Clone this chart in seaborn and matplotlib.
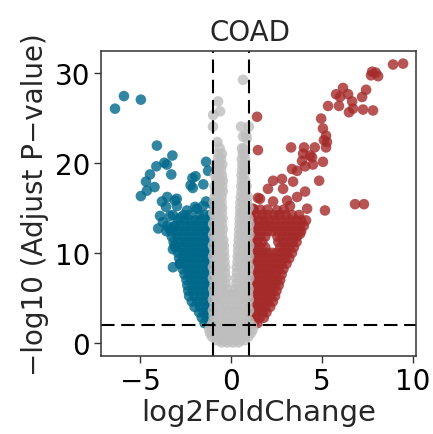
import numpy as np
import pandas as pd
import matplotlib
matplotlib.use("Agg")
import matplotlib.pyplot as plt
import seaborn as sns

# ---------------- data (log2FoldChange, -log10 adjusted p) ----------------
down_pts = [
    (-6.37, 26.0), (-5.88, 27.4), (-4.95, 27.0),
    (-4.07, 21.9), (-3.22, 20.8), (-3.66, 20.0), (-3.52, 19.8), (-4.10, 19.6),
    (-1.37, 20.1), (-1.26, 19.1), (-4.45, 18.7), (-3.28, 18.7), (-2.12, 18.3), (-1.95, 18.5),
    (-4.67, 17.9), (-2.22, 17.5), (-2.10, 17.2), (-1.52, 17.6), (-4.20, 17.3),
    (-4.62, 16.9), (-4.95, 16.3), (-3.50, 16.2), (-2.98, 16.0),
    (-3.79, 15.7), (-3.08, 15.8), (-1.37, 15.7), (-3.57, 15.1), (-2.97, 15.2),
    (-1.98, 15.1), (-1.54, 15.2), (-1.04, 15.4), (-2.42, 14.7), (-1.87, 14.9),
    (-3.90, 14.1), (-3.35, 14.1), (-3.19, 14.2), (-2.80, 13.9), (-3.74, 13.4),
    (-4.00, 12.7), (-3.35, 12.7), (-3.08, 12.9),
    (-3.08, 10.8), (-3.19, 10.4), (-3.19, 8.4), (-2.80, 8.8),
    (-1.45, 2.2), (-1.20, 2.2), (-1.04, 2.2),
    (-1.60, 2.8), (-1.35, 2.8), (-1.10, 2.8),
    (-1.75, 3.4), (-1.50, 3.4), (-1.25, 3.4), (-1.03, 3.4),
    (-2.00, 4.0), (-1.70, 4.0), (-1.40, 4.0), (-1.12, 4.0),
    (-2.15, 4.6), (-1.85, 4.6), (-1.55, 4.6), (-1.28, 4.6), (-1.03, 4.6),
    (-2.30, 5.2), (-2.00, 5.2), (-1.70, 5.2), (-1.40, 5.2), (-1.12, 5.2),
    (-2.35, 5.8), (-2.10, 5.8), (-1.82, 5.8), (-1.55, 5.8), (-1.28, 5.8), (-1.03, 5.8),
    (-2.40, 6.4), (-2.12, 6.4), (-1.85, 6.4), (-1.58, 6.4), (-1.30, 6.4), (-1.08, 6.4),
    (-2.45, 7.0), (-2.20, 7.0), (-1.95, 7.0), (-1.68, 7.0), (-1.42, 7.0), (-1.15, 7.0), (-1.03, 7.1),
    (-2.55, 7.6), (-2.28, 7.6), (-2.00, 7.6), (-1.72, 7.6), (-1.45, 7.6), (-1.20, 7.6), (-1.03, 7.6),
    (-2.65, 8.2), (-2.38, 8.2), (-2.10, 8.2), (-1.82, 8.2), (-1.55, 8.2), (-1.30, 8.2), (-1.06, 8.2),
    (-2.80, 8.8), (-2.50, 8.8), (-2.22, 8.8), (-1.95, 8.8), (-1.68, 8.8), (-1.40, 8.8), (-1.14, 8.8),
    (-2.85, 9.4), (-2.58, 9.4), (-2.30, 9.4), (-2.02, 9.4), (-1.75, 9.4), (-1.48, 9.4), (-1.22, 9.4), (-1.03, 9.4),
    (-2.90, 10.0), (-2.62, 10.0), (-2.35, 10.0), (-2.08, 10.0), (-1.80, 10.0), (-1.55, 10.0), (-1.30, 10.0), (-1.06, 10.0),
    (-3.05, 10.6), (-2.75, 10.6), (-2.48, 10.6), (-2.20, 10.6), (-1.92, 10.6), (-1.65, 10.6), (-1.38, 10.6), (-1.12, 10.6),
    (-3.15, 11.2), (-2.85, 11.2), (-2.55, 11.2), (-2.28, 11.2), (-2.00, 11.2), (-1.72, 11.2), (-1.45, 11.2), (-1.20, 11.2), (-1.03, 11.2),
    (-3.25, 11.8), (-2.95, 11.8), (-2.65, 11.8), (-2.38, 11.8), (-2.10, 11.8), (-1.82, 11.8), (-1.55, 11.8), (-1.28, 11.8), (-1.05, 11.8),
    (-3.55, 12.4), (-3.30, 12.4), (-3.00, 12.4), (-2.72, 12.4), (-2.45, 12.4), (-2.15, 12.4), (-1.88, 12.4), (-1.60, 12.4), (-1.33, 12.4), (-1.08, 12.4),
    (-3.50, 13.0), (-3.10, 13.0), (-2.80, 13.0), (-2.50, 13.0), (-2.20, 13.0), (-1.92, 13.0), (-1.62, 13.0), (-1.35, 13.0), (-1.10, 13.0),
    (-2.90, 13.6), (-2.55, 13.6), (-2.25, 13.6), (-1.95, 13.6), (-1.70, 13.6), (-1.40, 13.6), (-1.12, 13.6),
    (-2.60, 14.2), (-2.30, 14.2), (-1.75, 14.2), (-1.45, 14.2), (-1.15, 14.2),
]

up_pts = [
    (9.45, 31.0), (8.90, 30.9), (7.75, 30.1), (7.95, 30.0), (7.69, 29.7), (8.08, 29.6),
    (6.15, 28.3), (7.42, 28.1), (5.77, 27.6), (6.43, 27.6), (5.99, 27.3), (7.20, 27.3),
    (6.65, 26.8), (5.33, 26.3), (5.93, 26.3), (6.48, 25.6), (6.70, 26.0), (7.25, 25.9),
    (7.80, 25.8), (4.95, 24.9), (1.43, 25.1), (5.05, 23.8), (5.22, 23.0), (5.27, 22.3),
    (5.10, 22.5), (1.48, 21.4), (3.30, 21.7), (4.01, 21.7), (4.60, 21.7), (5.22, 21.7),
    (3.96, 21.0), (4.34, 20.8), (4.45, 20.6), (3.90, 20.2), (5.05, 20.1), (4.50, 19.8),
    (3.35, 19.3), (3.63, 19.1), (4.07, 19.6), (4.84, 18.0), (2.80, 18.2), (2.31, 18.0),
    (3.41, 17.9), (2.03, 17.1), (2.86, 17.1), (4.07, 16.8), (3.63, 16.2), (1.48, 16.1),
    (1.59, 16.0), (2.31, 15.7), (3.08, 15.8), (6.81, 15.4), (7.30, 15.4), (5.16, 14.7),
    (3.24, 15.2), (2.53, 14.7), (4.18, 14.9), (1.21, 14.9), (3.74, 14.2), (1.87, 13.2),
    (1.04, 2.2), (1.25, 2.2), (1.45, 2.2),
    (1.08, 2.8), (1.32, 2.8), (1.56, 2.8), (1.80, 2.8),
    (1.03, 3.4), (1.28, 3.4), (1.52, 3.4), (1.75, 3.4), (1.95, 3.4),
    (1.10, 4.0), (1.35, 4.0), (1.60, 4.0), (1.88, 4.0), (2.15, 4.0),
    (1.04, 4.6), (1.30, 4.6), (1.55, 4.6), (1.80, 4.6), (2.05, 4.6), (2.30, 4.6),
    (1.12, 5.2), (1.38, 5.2), (1.65, 5.2), (1.92, 5.2), (2.18, 5.2), (2.42, 5.2),
    (1.03, 5.8), (1.27, 5.8), (1.52, 5.8), (1.78, 5.8), (2.02, 5.8), (2.28, 5.8), (2.50, 5.8),
    (1.12, 6.4), (1.38, 6.4), (1.65, 6.4), (1.90, 6.4), (2.15, 6.4), (2.40, 6.4), (2.62, 6.4),
    (1.04, 7.0), (1.28, 7.0), (1.55, 7.0), (1.80, 7.0), (2.05, 7.0), (2.30, 7.0), (2.52, 7.0), (2.70, 7.0),
    (1.15, 7.6), (1.40, 7.6), (1.68, 7.6), (1.95, 7.6), (2.20, 7.6), (2.48, 7.6), (2.78, 7.6),
    (1.05, 8.2), (1.30, 8.2), (1.55, 8.2), (1.82, 8.2), (2.08, 8.2), (2.35, 8.2), (2.62, 8.2), (2.88, 8.2),
    (1.15, 8.8), (1.42, 8.8), (1.70, 8.8), (1.98, 8.8), (2.25, 8.8), (2.52, 8.8), (2.80, 8.8), (3.05, 8.8),
    (1.04, 9.4), (1.30, 9.4), (1.58, 9.4), (1.85, 9.4), (2.12, 9.4), (2.40, 9.4), (2.68, 9.4), (2.95, 9.4), (3.20, 9.4),
    (1.15, 10.0), (1.42, 10.0), (1.70, 10.0), (1.98, 10.0), (2.25, 10.0), (2.52, 10.0), (2.80, 10.0), (3.08, 10.0), (3.35, 10.0),
    (1.05, 10.6), (1.32, 10.6), (1.60, 10.6), (1.88, 10.6), (2.70, 10.6), (2.95, 10.6), (3.20, 10.6), (3.45, 10.6),
    (1.18, 11.2), (1.45, 11.2), (1.72, 11.2), (2.60, 11.2), (2.88, 11.2), (3.15, 11.2), (3.38, 11.2), (3.60, 11.2),
    (1.05, 11.8), (1.32, 11.8), (1.60, 11.8), (1.88, 11.8), (2.55, 11.8), (2.82, 11.8), (3.10, 11.8), (3.38, 11.8), (3.62, 11.8), (3.79, 12.1),
    (1.18, 12.4), (1.45, 12.4), (1.72, 12.4), (2.00, 12.4), (2.28, 12.4), (2.55, 12.4), (2.82, 12.4), (3.10, 12.4), (3.38, 12.4), (3.62, 12.4), (3.85, 12.4),
    (1.05, 13.0), (1.32, 13.0), (1.60, 13.0), (1.88, 13.0), (2.15, 13.0), (2.42, 13.0), (2.70, 13.0), (2.98, 13.0), (3.25, 13.0), (3.52, 13.0), (3.78, 13.0), (4.00, 13.0),
    (1.20, 13.6), (1.50, 13.6), (1.80, 13.6), (2.10, 13.6), (2.40, 13.6), (2.70, 13.6), (3.00, 13.6), (3.30, 13.6), (3.60, 13.6), (3.85, 13.6), (4.12, 13.6),
    (1.08, 14.2), (1.38, 14.2), (1.70, 14.2), (2.00, 14.2), (2.35, 14.2), (2.65, 14.2), (3.00, 14.2), (3.35, 14.2),
    (1.25, 14.8), (1.60, 14.8), (2.00, 14.8), (2.90, 14.8),
]

ns_pts = [
    (-0.50, 0.05), (-0.20, 0.05), (0.10, 0.05), (0.40, 0.05),
    (-0.80, 0.3), (-0.55, 0.3), (-0.30, 0.3), (0.00, 0.3), (0.25, 0.3), (0.50, 0.3), (0.75, 0.3),
    (-1.05, 0.7), (-0.80, 0.7), (-0.50, 0.7), (-0.20, 0.7), (0.10, 0.7), (0.35, 0.7), (0.65, 0.7), (0.95, 0.7),
    (-1.15, 1.1), (-0.90, 1.1), (-0.60, 1.1), (-0.35, 1.1), (-0.05, 1.1), (0.20, 1.1), (0.50, 1.1), (0.80, 1.1), (1.10, 1.1),
    (-1.20, 1.5), (-0.95, 1.5), (-0.70, 1.5), (-0.40, 1.5), (-0.15, 1.5), (0.15, 1.5), (0.40, 1.5), (0.70, 1.5), (0.95, 1.5), (1.20, 1.5),
    (-1.10, 1.9), (-0.85, 1.9), (-0.55, 1.9), (-0.25, 1.9), (0.05, 1.9), (0.30, 1.9), (0.60, 1.9), (0.85, 1.9), (1.15, 1.9),
    (-0.98, 2.4), (-0.70, 2.4), (-0.40, 2.4), (-0.10, 2.4), (0.20, 2.4), (0.50, 2.4), (0.80, 2.4), (0.99, 2.4),
    (-0.95, 3.0), (-0.65, 3.0), (-0.35, 3.0), (-0.05, 3.0), (0.25, 3.0), (0.55, 3.0), (0.85, 3.0),
    (-0.99, 3.6), (-0.75, 3.6), (-0.45, 3.6), (-0.15, 3.6), (0.15, 3.6), (0.45, 3.6), (0.75, 3.6), (0.98, 3.6),
    (-0.90, 4.2), (-0.60, 4.2), (-0.30, 4.2), (0.00, 4.2), (0.30, 4.2), (0.60, 4.2), (0.90, 4.2),
    (-0.99, 4.8), (-0.75, 4.8), (-0.45, 4.8), (-0.15, 4.8), (0.15, 4.8), (0.45, 4.8), (0.72, 4.8), (0.97, 4.8),
    (-0.92, 5.4), (-0.65, 5.4), (-0.35, 5.4), (-0.10, 5.4), (0.10, 5.4), (0.35, 5.4), (0.65, 5.4), (0.93, 5.4),
    (-0.97, 6.0), (-0.70, 6.0), (-0.45, 6.0), (-0.22, 6.0), (0.22, 6.0), (0.45, 6.0), (0.70, 6.0), (0.96, 6.0),
    (-0.90, 6.6), (-0.62, 6.6), (-0.30, 6.6), (0.30, 6.6), (0.60, 6.6), (0.88, 6.6),
    (-0.99, 7.2), (-0.75, 7.2), (-0.50, 7.2), (-0.28, 7.2), (0.28, 7.2), (0.52, 7.2), (0.78, 7.2), (0.99, 7.2),
    (-0.92, 7.8), (-0.65, 7.8), (-0.33, 7.8), (0.33, 7.8), (0.65, 7.8), (0.93, 7.8),
    (-0.99, 8.4), (-0.75, 8.4), (-0.50, 8.4), (-0.32, 8.4), (0.32, 8.4), (0.55, 8.4), (0.80, 8.4), (0.99, 8.4),
    (-0.90, 9.0), (-0.62, 9.0), (-0.36, 9.0), (0.36, 9.0), (0.63, 9.0), (0.90, 9.0),
    (-0.98, 9.6), (-0.75, 9.6), (-0.50, 9.6), (-0.37, 9.6), (0.37, 9.6), (0.55, 9.6), (0.78, 9.6), (0.98, 9.6),
    (-0.90, 10.2), (-0.62, 10.2), (-0.39, 10.2), (0.39, 10.2), (0.65, 10.2), (0.92, 10.2),
    (-0.99, 10.8), (-0.75, 10.8), (-0.52, 10.8), (-0.40, 10.8), (0.40, 10.8), (0.60, 10.8), (0.80, 10.8), (0.99, 10.8),
    (-0.90, 11.4), (-0.62, 11.4), (-0.42, 11.4), (0.42, 11.4), (0.65, 11.4), (0.90, 11.4),
    (-0.98, 12.0), (-0.72, 12.0), (-0.50, 12.0), (0.44, 12.0), (0.62, 12.0), (0.85, 12.0), (1.00, 12.0),
    (-0.88, 12.6), (-0.62, 12.6), (-0.45, 12.6), (0.45, 12.6), (0.70, 12.6), (0.95, 12.6),
    (-0.98, 13.2), (-0.74, 13.2), (-0.50, 13.2), (0.47, 13.2), (0.62, 13.2), (0.85, 13.2), (1.00, 13.2),
    (-0.88, 13.8), (-0.62, 13.8), (-0.47, 13.8), (0.48, 13.8), (0.72, 13.8), (0.95, 13.8),
    (-0.97, 14.4), (-0.72, 14.4), (-0.50, 14.4), (0.50, 14.4), (0.63, 14.4), (0.85, 14.4),
    (-0.86, 15.0), (-0.60, 15.0), (-0.49, 15.0), (0.50, 15.0), (0.72, 15.0), (0.96, 15.0),
    (-0.95, 15.6), (-0.70, 15.6), (-0.52, 15.6), (0.52, 15.6), (0.65, 15.6), (0.88, 15.6),
    (-0.90, 16.2), (-0.72, 16.2), (-0.52, 16.2), (0.54, 16.2), (0.72, 16.2), (0.92, 16.2),
    (-0.85, 16.8), (-0.62, 16.8), (-0.45, 16.8), (0.58, 16.8), (0.80, 16.8),
    (-0.90, 17.4), (-0.70, 17.4), (-0.48, 17.4), (0.56, 17.4), (0.70, 17.4), (0.85, 17.4),
    (-0.80, 18.0), (-0.60, 18.0), (-0.45, 18.0), (0.60, 18.0), (0.78, 18.0),
    (-0.88, 18.6), (-0.70, 18.6), (-0.50, 18.6), (0.58, 18.6), (0.72, 18.6),
    (-0.75, 19.2), (-0.55, 19.2), (0.60, 19.2), (0.80, 19.2),
    (-0.82, 19.8), (-0.65, 19.8), (-0.48, 19.8), (0.62, 19.8), (0.75, 19.8),
    (-0.72, 20.4), (-0.55, 20.4), (0.60, 20.4), (0.78, 20.4),
    (-0.70, 21.0), (-0.50, 21.0), (0.65, 21.0), (0.75, 21.0),
    (-0.62, 21.6), (0.60, 21.6), (0.72, 21.6),
    (-0.75, 22.3), (0.66, 22.9), (0.86, 22.7), (0.82, 23.1),
    (-0.99, 24.0), (0.55, 24.0), (0.98, 24.0),
    (-0.98, 25.3), (-0.60, 25.7), (-0.71, 26.8), (0.66, 29.2),
]

groups = ["down", "up", "ns"]
group_colors = ["#00688B", "#A52A2A", "#BEBEBE"]
x_ticks = [-5, 0, 5, 10]
y_ticks = [0, 10, 20, 30]
fc_cut = 1
p_cut = 2

frames = []
for g, pts in zip(groups, [down_pts, up_pts, ns_pts]):
    arr = np.array(pts)
    frames.append(pd.DataFrame({"log2FoldChange": arr[:, 0], "nlogp": arr[:, 1], "group": g}))
df = pd.concat(frames, ignore_index=True)

sns.set_style("white")
plt.rcParams["font.family"] = ["DejaVu Sans"]

fig = plt.figure(figsize=(4.33, 4.35), dpi=100)
ax = fig.add_axes([101 / 433, 1 - 357 / 435, 315 / 433, 305 / 435])

sns.scatterplot(data=df, x="log2FoldChange", y="nlogp", hue="group",
                hue_order=groups, palette=dict(zip(groups, group_colors)),
                s=58, alpha=0.8, linewidth=0, legend=False, ax=ax)

dash = dict(color="black", lw=1.5, dashes=(6.5, 3.2))
ax.axvline(-fc_cut, **dash)
ax.axvline(fc_cut, **dash)
ax.axhline(p_cut, **dash)

ax.set_xlim(-7.14, 10.16)
ax.set_ylim(-1.45, 32.4)
ax.set_xticks(x_ticks)
ax.set_yticks(y_ticks)
ax.set_xticklabels([str(t).replace("-", "\u2212") for t in x_ticks])
ax.set_yticklabels([str(t) for t in y_ticks])
ax.tick_params(axis="both", which="both", direction="out", length=5, width=1,
               color="#333333", labelsize=20, labelcolor="black", pad=3,
               bottom=True, left=True)
for sp in ax.spines.values():
    sp.set_visible(True)
    sp.set_color("#333333")
    sp.set_linewidth(1.1)

ax.set_xlabel("log2FoldChange", fontsize=21, labelpad=2)
ax.set_ylabel("\u2212log10 (Adjust P\u2212value)", fontsize=20, labelpad=4)
ax.set_title("COAD", fontsize=20, pad=8, x=0.473)

fig.savefig("out.png", dpi=100)
